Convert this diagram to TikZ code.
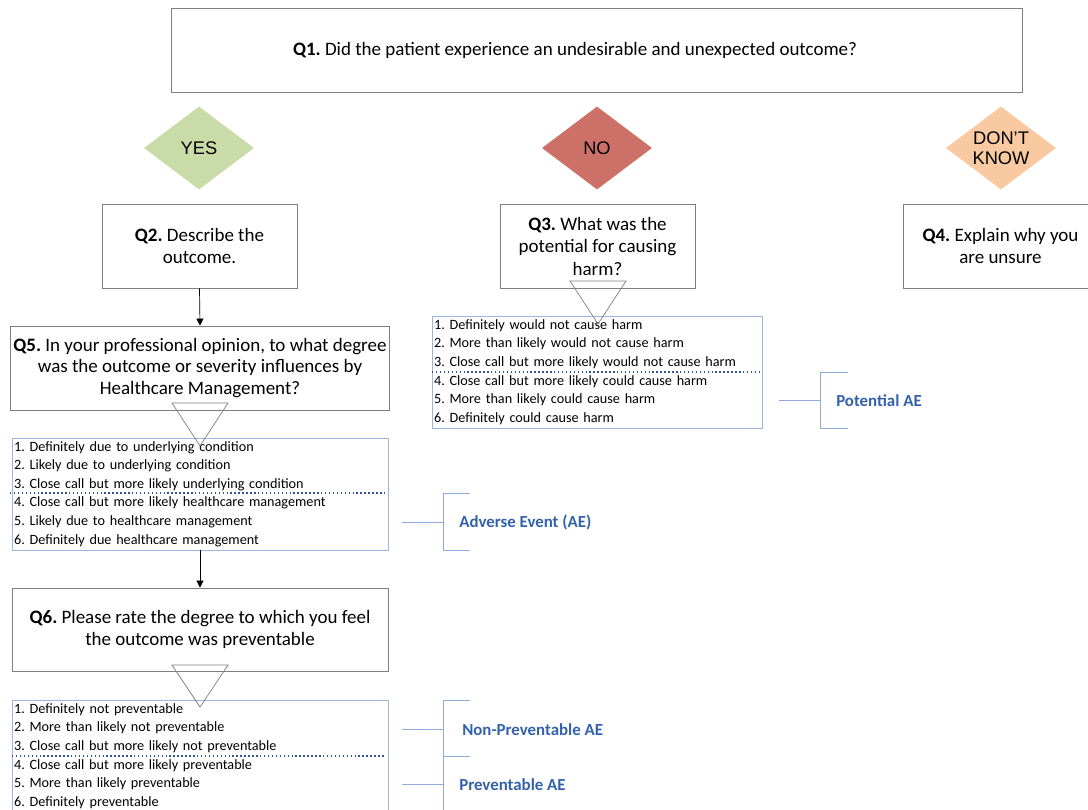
\documentclass[tikz,border=0pt]{standalone}
\usepackage{fontspec}
\setmainfont{Carlito}
\newfontfamily\arialfont{Liberation Sans}
\usetikzlibrary{shapes.geometric,arrows.meta}
\frenchspacing
\definecolor{boxgray}{HTML}{7F7F7F}
\definecolor{optblue}{HTML}{9DB7DC}
\definecolor{cutblue}{HTML}{2F5597}
\definecolor{brkblue}{HTML}{8FAADC}
\definecolor{tagblue}{HTML}{3362AB}
\definecolor{yesgreen}{HTML}{C9DCA8}
\definecolor{nored}{HTML}{CD7067}
\definecolor{dkorange}{HTML}{F9C9A1}

\begin{document}
\begin{tikzpicture}[x=0.025cm,y=-0.025cm,
    question/.style ={rectangle, draw=boxgray, line width=0.6pt, align=center,
      font=\fontsize{13.5}{16}\selectfont, inner sep=2pt},
    answer/.style ={diamond, aspect=1.33, minimum width=2.75cm, minimum height=2.075cm,
      inner sep=0pt, align=center, font=\arialfont\fontsize{13}{14}\selectfont},
    options/.style ={rectangle, draw=optblue, line width=0.6pt, align=left,
      font=\fontsize{10.1}{13.2}\selectfont, inner xsep=1.5pt, inner ysep=0pt},
    funnel/.style ={draw=boxgray, line width=0.5pt},
    cut/.style ={draw=cutblue, line width=1pt, dash pattern=on 1pt off 1.8pt},
    bracket/.style ={draw=brkblue, line width=0.7pt},
    tag/.style ={anchor=west, inner sep=0pt, text=tagblue,
      font=\bfseries\fontsize{12}{14}\selectfont},
    flow/.style ={draw=black, line width=0.5pt, -{Triangle[length=5pt,width=5pt]}}]
   \useasboundingbox (0,0) rectangle (1088,810);

   \node[question, minimum width=21.25cm, minimum height=2.1cm] (Q1) at (597,50)
     {\textbf{Q1.} Did the patient experience an undesirable and unexpected outcome?\hspace*{1.1cm}};

   \node[answer, fill=yesgreen] (YES) at (199,148) {YES};
   \node[answer, fill=nored] (NO) at (597,148) {NO};
   \node[answer, fill=dkorange] (DK) at (1001,148) {DON’T\\KNOW};

   \node[question, minimum width=4.875cm, minimum height=2.1cm] (Q2) at (199.5,246)
     {\textbf{Q2.} Describe the\\outcome.};
   \node[question, minimum width=4.875cm, minimum height=2.1cm] (Q3) at (597.5,246)
     {\textbf{Q3.} What was the\\potential for causing\\harm?};
   \node[question, minimum width=4.875cm, minimum height=2.1cm] (Q4) at (1000.5,246)
     {\textbf{Q4.} Explain why you\\are unsure};

   \node[question, minimum width=9.4cm, minimum height=2.1cm,
     font=\fontsize{13.5}{15.6}\selectfont] (Q5) at (200,368)
     {\textbf{Q5.} In your professional opinion, to what degree\\
      was the outcome or severity influences by\\Healthcare Management?};
   \node[options, text width=9.4cm-3pt, minimum height=2.8cm] (O5) at (200,494)
     {1. Definitely due to underlying condition\\
      2. Likely due to underlying condition\\
      3. Close call but more likely underlying condition\\
      4. Close call but more likely healthcare management\\
      5. Likely due to healthcare management\\
      6. Definitely due healthcare management};

   \node[question, minimum width=9.4cm, minimum height=2.075cm] (Q6) at (200,629.5)
     {\textbf{Q6.} Please rate the degree to which you feel\\the outcome was preventable};
   \node[options, text width=9.4cm-3pt, minimum height=2.8cm] (O6) at (200,756)
     {1. Definitely not preventable\\
      2. More than likely not preventable\\
      3. Close call but more likely not preventable\\
      4. Close call but more likely preventable\\
      5. More than likely preventable\\
      6. Definitely preventable};

   \node[options, text width=8.25cm-3pt, minimum height=2.8cm] (O3) at (597,372)
     {1. Definitely would not cause harm\\
      2. More than likely would not cause harm\\
      3. Close call but more likely would not cause harm\\
      4. Close call but more likely could cause harm\\
      5. More than likely could cause harm\\
      6. Definitely could cause harm};

   \draw[flow] (Q2.south) to (Q5.north);
   \draw[flow] (O5.south) to (Q6.north);

   \draw[funnel] (570,281) -- (626,281) -- (598,324) -- cycle;
   \draw[funnel] (172,403) -- (228,403) -- (200,446) -- cycle;
   \draw[funnel] (172,665) -- (228,665) -- (200,707) -- cycle;

   \draw[cut] (432,372) -- (760,372);
   \draw[cut] (10,493) -- (386,493);
   \draw[cut] (12,756) -- (386,756);

   \draw[bracket] (779,400) -- (820,400);
   \draw[bracket] (848,372) -- (820,372) -- (820,428) -- (848,428);
   \node[tag] (PAE) at (836,401) {Potential AE};

   \draw[bracket] (402,522) -- (443,522);
   \draw[bracket] (470,493) -- (443,493) -- (443,550) -- (470,550);
   \node[tag] (AE) at (459,523) {Adverse Event (AE)};

   \draw[bracket] (402,729) -- (443,729);
   \draw[bracket] (470,700) -- (443,700) -- (443,756) -- (470,756);
   \node[tag] (NPAE) at (462,730) {Non-Preventable AE};

   \draw[bracket] (402,784) -- (443,784);
   \draw[bracket] (443,756) -- (443,815);
   \node[tag] (PRAE) at (459,785) {Preventable AE};
 \end{tikzpicture}
\end{document}
